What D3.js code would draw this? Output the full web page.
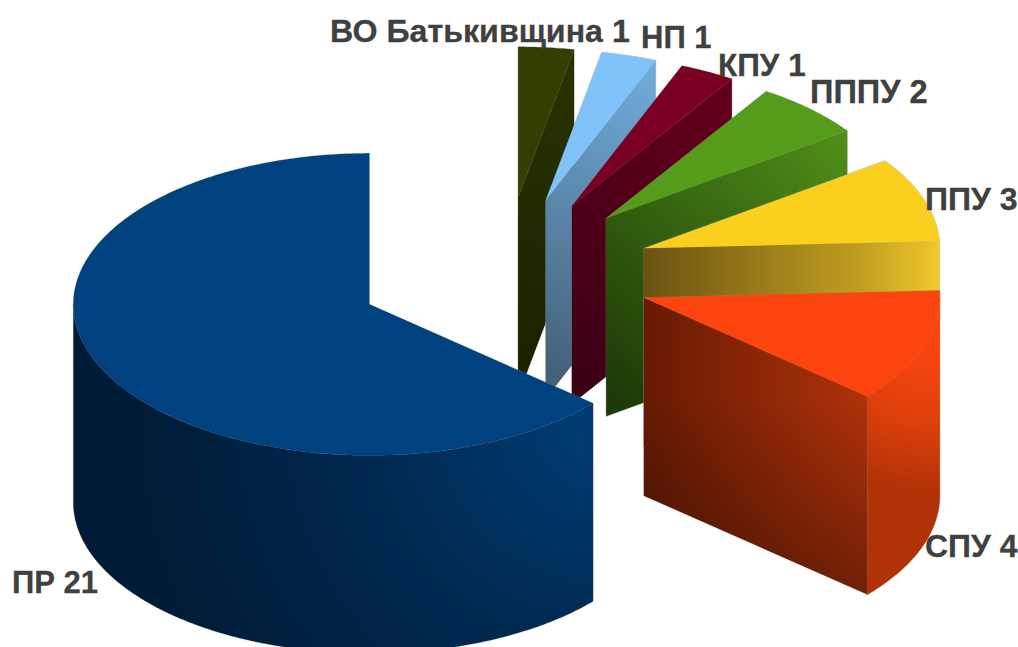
<!DOCTYPE html>
<html><head><meta charset="utf-8">
<script src="https://cdn.jsdelivr.net/npm/d3@7"></script>
<style>html,body{margin:0;padding:0;background:#fff;overflow:hidden}svg{display:block}</style>
</head><body><svg id="c" width="1018" height="647"></svg>
<script>
// Data
const parties = ["ВО Батькивщина","НП","КПУ","ПППУ","ППУ","СПУ","ПР"];
const seats   = [1,1,1,2,3,4,21];
// Styling
const topColors  = ["#333f00","#7fc3fa","#7a0023","#559c1b","#fad01f","#fc440f","#00427f"];
const wallDark   = ["#1a2200","#45617a","#3a0014","#1d3a07","#6b5212","#661a04","#001b36"];
const wallLight  = ["#293300","#72aedd","#66001d","#4f9019","#f0c92b","#b0320a","#003d75"];
const labelPos   = [[330,42],[641,48],[718,76],[810,103],[925,210],[925,557],[12,593]];
const fontSizes  = [32.2,31,31.5,32.6,32,31.9,31];
// Layout of the projected pie
const cx=504, cy=273, rx=296, ry=151, depth=198, explode=0.5;

const svg=d3.select("#c"), defs=svg.append("defs");
const X=d3.scaleLinear().domain([-1,1]).range([cx-rx,cx+rx]);
const Y=d3.scaleLinear().domain([-1,1]).range([cy+ry,cy-ry]);
const pie=d3.pie().sort(null).value(d=>d).startAngle(0).endAngle(2*Math.PI);
const arcs=pie(seats);
const line=d3.line();
const p=(u,v,z=0)=>[X(u),Y(v)+z*depth];

function grad(id,x1,y1,x2,y2,stops){
  const g=defs.append("linearGradient").attr("id",id).attr("gradientUnits","userSpaceOnUse")
    .attr("x1",x1).attr("y1",y1).attr("x2",x2).attr("y2",y2);
  stops.forEach(s=>g.append("stop").attr("offset",s[0]).attr("stop-color",s[1]).attr("stop-opacity",s[2]==null?1:s[2]));
  return `url(#${id})`;
}
function radial(id,c0,c1,r,stops){
  const g=defs.append("radialGradient").attr("id",id).attr("gradientUnits","userSpaceOnUse")
    .attr("cx",c0).attr("cy",c1).attr("r",r);
  stops.forEach(s=>g.append("stop").attr("offset",s[0]).attr("stop-color",s[1]));
  return `url(#${id})`;
}

arcs.forEach((a,i)=>{
  const mid=(a.startAngle+a.endAngle)/2;
  const ox=explode*Math.sin(mid), oy=explode*Math.cos(mid);
  const rim=(t0,t1)=>{
    const n=Math.max(2,Math.ceil((t1-t0)/0.01));
    return d3.range(n+1).map(k=>{const t=t0+(t1-t0)*k/n;return [ox+Math.sin(t),oy+Math.cos(t)];});
  };
  const apex=[ox,oy];
  const g=svg.append("g").attr("class","slice");
  const faces=[];
  // top face
  const topPts=[apex,...rim(a.startAngle,a.endAngle)].map(q=>p(q[0],q[1],0));
  // end wall
  if(a.endAngle<Math.PI){
    const e=[ox+Math.sin(a.endAngle),oy+Math.cos(a.endAngle)];
    const pts=[p(apex[0],apex[1]),p(e[0],e[1]),p(e[0],e[1],1),p(apex[0],apex[1],1)];
    let base;
    if(i===5){
      base=grad("w"+i,pts[0][0],0,pts[1][0],0,[[0,wallDark[i]],[1,wallLight[i]]]);
    } else if(i===4){
      base=grad("w"+i,pts[0][0],0,pts[1][0],0,[[0,wallDark[i]],[.75,"#c3a020"],[1,wallLight[i]]]);
    } else {
      base=grad("w"+i,pts[3][0],pts[3][1]-30,pts[1][0],pts[1][1],[[0,wallDark[i]],[1,wallLight[i]]]);
    }
    faces.push({pts,fill:base});
    if(i===5){
      const shade=grad("s"+i,0,pts[1][1],0,pts[2][1],[[0,"#000",0],[1,"#000",.36]]);
      faces.push({pts,fill:shade,overlay:true});
    }
  }
  // outer wall
  const w0=Math.max(a.startAngle,Math.PI/2), w1=Math.min(a.endAngle,1.5*Math.PI);
  if(w1>w0){
    const r=rim(w0,w1);
    const pts=[...r.map(q=>p(q[0],q[1],0)),...r.slice().reverse().map(q=>p(q[0],q[1],1))];
    const s=p(ox+Math.sin(a.startAngle),oy+Math.cos(a.startAngle));
    const fill= i===5
      ? radial("o"+i,s[0]+10,s[1]-30,235,[[0,"#fc4510"],[.42,"#f8440f"],[.7,"#dd3f0c"],[1,"#b03206"]])
      : radial("o"+i,s[0]+5,s[1]+20,470,[[0,wallLight[i]],[.45,"#002a52"],[1,wallDark[i]]]);
    faces.push({pts,fill});
  }
  faces.push({pts:topPts,fill:topColors[i],top:true});
  // hairline silhouette beneath the fills
  faces.forEach(f=>{ if(!f.overlay) g.append("path").attr("d",line(f.pts)+"Z").attr("fill","none")
     .attr("stroke","#8c8c8c").attr("stroke-opacity",.5).attr("stroke-width",1).attr("stroke-linejoin","round");});
  g.selectAll("path.face").data(faces).join("path").attr("class","face")
    .attr("d",f=>line(f.pts)+"Z").attr("fill",f=>f.fill);
});

svg.append("g").selectAll("text").data(parties).join("text")
  .attr("x",(d,i)=>labelPos[i][0]).attr("y",(d,i)=>labelPos[i][1])
  .attr("font-family","'Liberation Sans',Arial,sans-serif").attr("font-weight",700)
  .attr("font-size",(d,i)=>fontSizes[i]).attr("fill","#404040")
  .attr("stroke","#404040").attr("stroke-width",.3)
  .text((d,i)=>`${d} ${seats[i]}`);
</script></body></html>
